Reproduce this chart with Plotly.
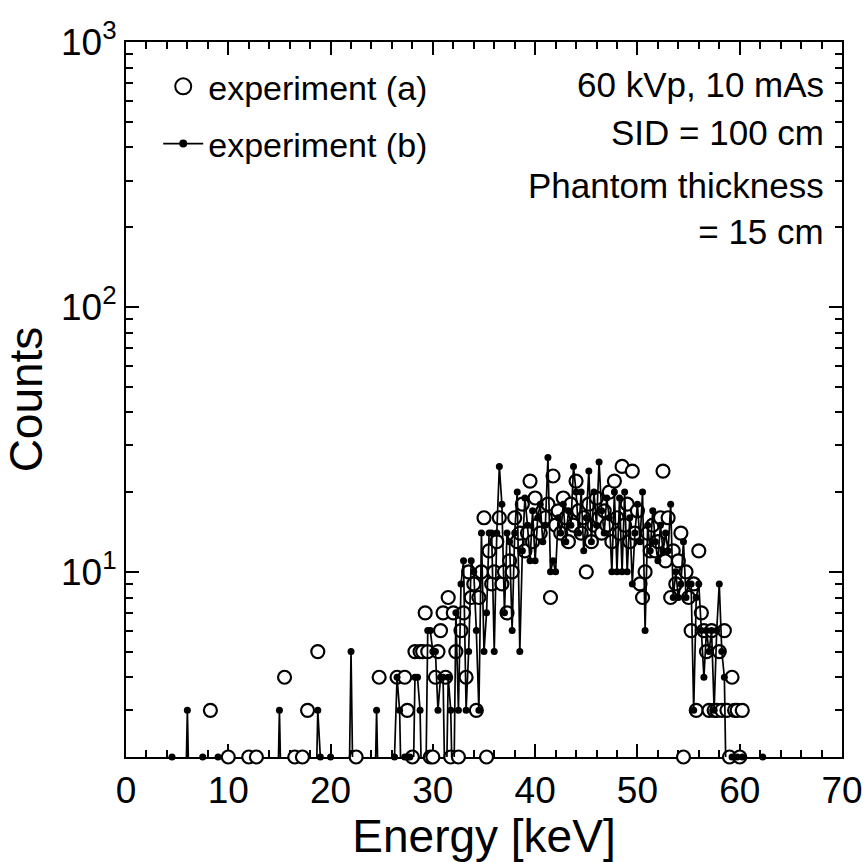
import plotly.graph_objects as go

# ---------------- data (counts per 0.25 keV channel, starting at 0 keV) ----------------
channel_width_kev = 0.25

# experiment (a): open circles
counts_a = [
    0, 0, 0, 0,   0, 0, 0, 0,   0, 0, 0, 0,   0, 0, 0, 0,      # 0-3 keV
    0, 0, 0, 0,   0, 0, 0, 0,   0, 0, 0, 0,   0, 0, 0, 0,      # 4-7
    0, 3, 0, 0,   0, 0, 0, 0,   2, 0, 0, 0,   0, 0, 0, 0,      # 8-11
    2, 0, 0, 2,   0, 0, 0, 0,   0, 0, 0, 0,   0, 0, 4, 0,      # 12-15
    0, 0, 2, 0,   0, 2, 0, 3,   0, 0, 0, 5,   0, 0, 0, 0,      # 16-19
    0, 0, 0, 0,   0, 0, 0, 0,   0, 0, 2, 0,   0, 0, 0, 0,      # 20-23
    0, 0, 0, 4,   1, 0, 1, 1,   1, 0, 4, 1,   1, 4, 3, 1,      # 24-27
    2, 5, 1, 5,   5, 7, 5, 2,   2, 4, 5, 6,   7, 4, 8, 2,      # 28-31
    7, 5, 2, 6,   7, 4, 10, 8,  9, 3, 8, 10,  16, 2, 12, 9,    # 32-35
    10, 13, 16, 9, 10, 7, 11, 10, 16, 13, 14, 18, 12, 14, 22, 13,  # 36-39
    19, 15, 14, 17, 16, 18, 8, 23, 15, 17, 14, 19, 16, 13, 18, 15, # 40-43
    22, 17, 14, 16, 10, 18, 13, 15, 19, 16, 14, 17, 15, 20, 13, 22, # 44-47
    16, 14, 25, 15, 18, 13, 24, 14, 17, 9, 8, 10, 14, 12, 15, 12,   # 48-51
    13, 16, 24, 11, 16, 8, 12, 9, 11, 14, 2, 10, 8, 6, 9, 3,        # 52-55
    12, 7, 6, 5,  3, 6, 3, 3,   5, 3, 6, 3,   2, 4, 3, 3,      # 56-59
    2, 3, 0, 1,   0, 0, 0, 0,   0, 0, 0, 0,                    # 60-62
]

# experiment (b): line with small filled markers
counts_b = [
    1, 1, 1, 1,   1, 1, 1, 1,   1, 1, 1, 1,   1, 1, 1, 1,      # 0-3 keV
    1, 1, 2, 1,   1, 1, 1, 1,   3, 1, 1, 1,   1, 1, 2, 1,      # 4-7
    1, 1, 1, 1,   2, 1, 1, 1,   1, 1, 1, 1,   1, 1, 1, 1,      # 8-11
    1, 1, 1, 1,   1, 1, 1, 1,   1, 1, 1, 1,   3, 1, 1, 1,      # 12-15
    1, 1, 1, 1,   1, 1, 1, 1,   1, 1, 1, 3,   2, 1, 1, 1,      # 16-19
    2, 1, 1, 1,   1, 1, 1, 1,   5, 1, 1, 1,   1, 1, 1, 1,      # 20-23
    1, 1, 3, 1,   1, 1, 1, 1,   1, 2, 4, 3,   1, 2, 2, 2,      # 24-27
    1, 4, 4, 3,   1, 1, 6, 6,   5, 5, 3, 4,   4, 1, 4, 3,      # 28-31
    1, 7, 3, 9,   11, 3, 5, 11, 10, 6, 3, 14, 5, 7, 14, 14,    # 32-35
    5, 14, 25, 18, 7, 14, 13, 6, 14, 20, 5, 12, 19, 15, 11, 17,   # 36-39
    11, 16, 18, 13, 15, 27, 10, 11, 10, 16, 14, 18, 13, 17, 15, 25, # 40-43
    20, 14, 20, 12, 16, 24, 13, 20, 15, 26, 17, 14, 19, 16, 10, 20, # 44-47
    10, 19, 10, 20, 10, 16, 9, 14, 18, 13, 20, 6, 15, 12, 17, 13,   # 48-51
    11, 15, 12, 14, 12, 18, 8, 10, 8, 9, 13, 8, 9, 9, 3, 8,         # 52-55
    9, 6, 4, 6,   5, 6, 3, 6,   9, 5, 4, 1,   1, 2, 1, 2,      # 56-59
    1, 2, 1, 1,   1, 1, 1, 1,   1, 2, 1, 1,                    # 60-62
]

energy_kev = [round(i * channel_width_kev, 2) for i in range(len(counts_a))]

series_names = ["experiment (a)", "experiment (b)"]
annotation_lines = ["60 kVp, 10 mAs", "SID = 100 cm", "Phantom thickness<br>= 15 cm"]
x_tick_values = [0, 10, 20, 30, 40, 50, 60, 70]
y_tick_values = [10, 100, 1000]
y_tick_labels = ["10<sup>1</sup>", "10<sup>2</sup>", "10<sup>3</sup>"]
y_minor_values = [2, 3, 4, 5, 6, 7, 8, 9, 20, 30, 40, 50, 60, 70, 80, 90,
                  200, 300, 400, 500, 600, 700, 800, 900]

# ---------------- figure ----------------
FONT = 'Arial, "Liberation Sans", sans-serif'
Y_MIN = 2

size_a = [13 if c >= Y_MIN else 0 for c in counts_a]
size_b = [7 if c >= Y_MIN else 0 for c in counts_b]

fig = go.Figure()

fig.add_trace(go.Scatter(
    x=energy_kev, y=counts_a, mode="markers", showlegend=False, cliponaxis=False,
    marker=dict(symbol="circle", size=size_a, color="white", opacity=1,
                line=dict(color="black", width=2.2)),
))
fig.add_trace(go.Scatter(
    x=energy_kev, y=counts_b, mode="lines+markers", showlegend=False, cliponaxis=False,
    line=dict(color="black", width=1.7),
    marker=dict(symbol="circle", size=size_b, color="black", opacity=1, line=dict(width=0)),
))

# legend entries
fig.add_trace(go.Scatter(
    x=[None], y=[None], mode="markers", name=series_names[0], legendgroup="a",
    marker=dict(symbol="circle", size=16, color="white", opacity=1,
                line=dict(color="black", width=2)),
))
fig.add_trace(go.Scatter(
    x=[None], y=[None], mode="lines+markers", name=series_names[1], legendgroup="b",
    line=dict(color="black", width=1.7),
    marker=dict(symbol="circle", size=8, color="black", opacity=1),
))

axis_common = dict(
    showgrid=False, zeroline=False, showline=True, linecolor="black", linewidth=2,
    mirror="allticks", ticks="inside", tickcolor="black", tickwidth=1.5, ticklen=13,
    layer="below traces", tickfont=dict(family=FONT, size=37, color="black"),
)

fig.update_xaxes(
    **axis_common, range=[0, 70], tickmode="array", tickvals=x_tick_values,
    minor=dict(dtick=2, tick0=0, ticks="inside", ticklen=7, tickwidth=1.5, tickcolor="black", showgrid=False),
    title=dict(text="Energy [keV]", font=dict(family=FONT, size=46, color="black"), standoff=4),
)
fig.update_yaxes(
    **axis_common, type="log", range=[0.301029, 3], tickmode="array",
    tickvals=y_tick_values, ticktext=y_tick_labels,
    minor=dict(tickmode="array", tickvals=y_minor_values, ticks="inside", ticklen=7,
               tickwidth=1.5, tickcolor="black", showgrid=False),
    title=dict(text="Counts", font=dict(family=FONT, size=46, color="black"), standoff=4),
)

ann_y_px = [84, 133, 208]
for text, py in zip(annotation_lines, ann_y_px):
    fig.add_annotation(
        text=text, xref="paper", yref="paper", x=(826 - 126) / 716, y=1 - (py - 42) / 715,
        xanchor="right", yanchor="middle", align="right", showarrow=False,
        font=dict(family=FONT, size=35, color="black"),
    )

fig.update_layout(
    width=868, height=862,
    margin=dict(l=126, r=26, t=42, b=105, autoexpand=False),
    paper_bgcolor="white", plot_bgcolor="white",
    font=dict(family=FONT, color="black"),
    legend=dict(x=0.045, y=0.978, xanchor="left", yanchor="top",
                bgcolor="rgba(0,0,0,0)", borderwidth=0,
                font=dict(family=FONT, size=34, color="black"),
                traceorder="grouped", tracegroupgap=10, itemwidth=40),
)

fig.write_html("out.html", config={"displayModeBar": False},
               post_script="document.body.style.margin='0';document.body.style.overflow='hidden';")
